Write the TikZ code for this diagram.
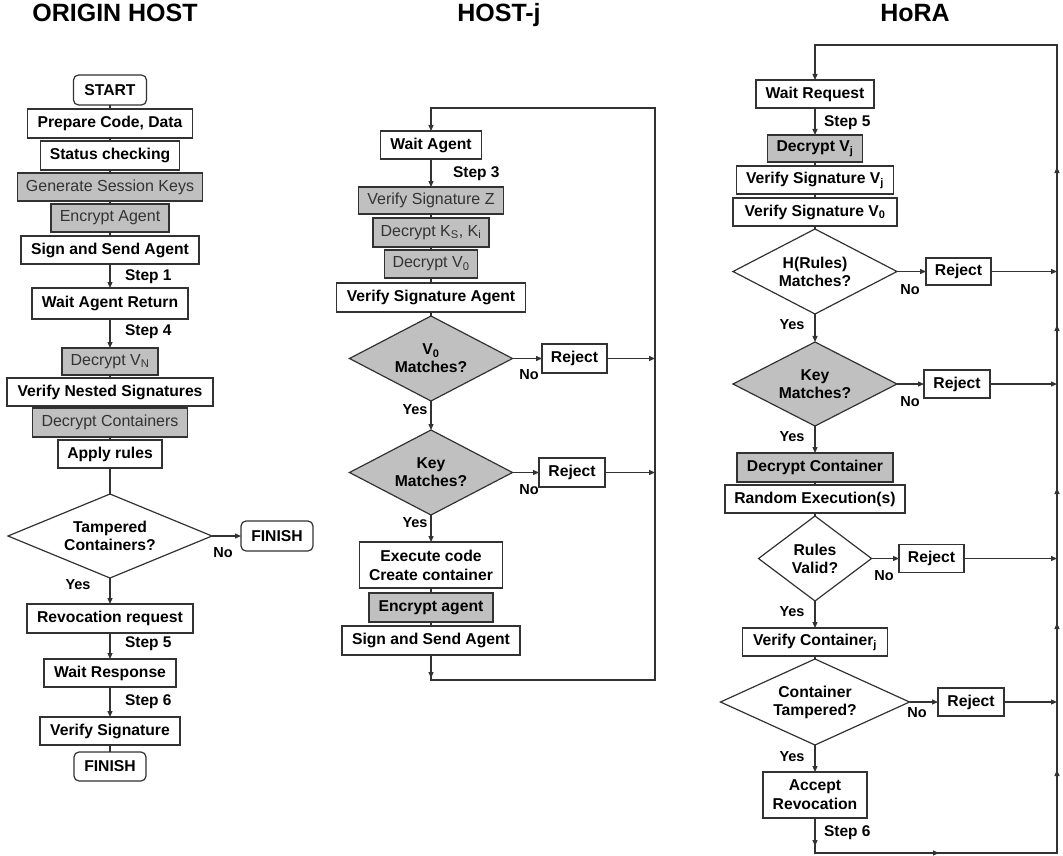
\documentclass[tikz,border=0pt]{standalone}
\usepackage{fontspec}
\setmainfont{Liberation Sans}
\usetikzlibrary{arrows.meta,shapes.geometric,decorations.markings}
\definecolor{boxgray}{RGB}{192,192,192}
\definecolor{edge}{RGB}{50,50,50}
\begin{document}
\begin{tikzpicture}[x=1pt,y=-1pt,
  every node/.style={inner sep=0pt, outer sep=0pt},
  tipA/.tip={Triangle[length=6pt,width=5pt]},
  sz/.style 2 args={minimum width=#1pt, minimum height=#2pt},
  base/.style={draw=edge, line width=1.2pt},
  box/.style={base, fill=white, align=center,
    font=\fontsize{15.7}{19}\selectfont\bfseries},
  rnd/.style={rounded corners=5pt},
  gbox/.style={base, fill=boxgray, align=center, text=black!80,
    font=\fontsize{16}{19}\selectfont},
  bgbox/.style={box, fill=boxgray},
  dia/.style={base, diamond, fill=white},
  gdia/.style={dia, fill=boxgray},
  dtext/.style={align=center, font=\fontsize{15.7}{18}\selectfont\bfseries},
  title/.style={font=\fontsize{25}{30}\selectfont\bfseries, anchor=base},
  steplbl/.style={anchor=west, font=\fontsize{15.5}{18}\selectfont\bfseries},
  yn/.style={font=\fontsize{14.5}{17}\selectfont\bfseries},
  ln/.style={draw=edge, line width=1.2pt},
  arr/.style={ln, -tipA},
  midarrows/.style={postaction={decorate}, decoration={markings, #1}}
]
\useasboundingbox (0,0) rectangle (1063,856);

% column headings
\node[title] (t1) at (115,22) {ORIGIN HOST};
\node[title] (t2) at (499,22) {HOST-j};
\node[title] (t3) at (915,22) {HoRA};

% ---------------- origin host ----------------
\node[box, rnd, sz={73}{30}] (start) at (110,90) {START};
\node[box, sz={165}{29}] (prep) at (110,123.5) {Prepare Code, Data};
\node[box, sz={139}{29}] (stat) at (110,155.5) {Status checking};
\node[gbox, sz={185}{28}] (gen) at (110,187) {Generate Session Keys};
\node[gbox, sz={118}{28}] (enc) at (110,218) {Encrypt Agent};
\node[box, sz={178}{28}] (send) at (110,250) {Sign and Send Agent};
\node[box, sz={156}{31}] (wret) at (110,303.5) {Wait Agent Return};
\node[gbox, sz={96}{27}] (dvn) at (110,361.5) {Decrypt V\textsubscript{N}};
\node[box, sz={206}{28}] (vns) at (110,392) {Verify Nested Signatures};
\node[gbox, sz={155}{29}] (dcs) at (110,422.5) {Decrypt Containers};
\node[box, sz={104}{28}] (rules) at (110,454) {Apply rules};
\node[dia, sz={204}{84}, label={[dtext]center:{Tampered\\Containers?}}] (tamp) at (110,536) {};
\node[box, rnd, sz={72}{30}] (fin1) at (277,536) {FINISH};
\node[box, sz={166}{29}] (revo) at (110,618.5) {Revocation request};
\node[box, sz={132}{28}] (wresp) at (110,673) {Wait Response};
\node[box, sz={140}{28}] (vsig) at (110,731) {Verify Signature};
\node[box, rnd, sz={72}{29}] (fin2) at (110,766.5) {FINISH};

\draw[ln] (start) -- (prep);
\draw[ln] (prep) -- (stat);
\draw[ln] (stat) -- (gen);
\draw[ln] (gen) -- (enc);
\draw[ln] (enc) -- (send);
\draw[arr] (send) -- (wret);
\draw[arr] (wret) -- (dvn);
\draw[ln] (dvn) -- (vns);
\draw[ln] (vns) -- (dcs);
\draw[ln] (dcs) -- (rules);
\draw[ln] (rules) -- (tamp);
\draw[arr] (tamp) -- (fin1);
\draw[arr] (tamp) -- (revo);
\draw[arr] (revo) -- (wresp);
\draw[arr] (wresp) -- (vsig);
\draw[ln] (vsig) -- (fin2);

\node[steplbl] (s1) at (125,277) {Step 1};
\node[steplbl] (s4) at (125,332) {Step 4};
\node[steplbl] (s5) at (125,644) {Step 5};
\node[steplbl] (s6) at (125,702) {Step 6};
\node[yn] (no0) at (223,553) {No};
\node[yn] (yes0) at (78,585) {Yes};

% ---------------- host j ----------------
\node[box, sz={101}{28}] (wag) at (431,145) {Wait Agent};
\node[gbox, sz={145}{27}] (vsz) at (431,200.5) {Verify Signature Z};
\node[gbox, sz={116}{29}] (dks) at (431,232.5) {Decrypt K\textsubscript{S}, K\textsubscript{i}};
\node[gbox, sz={93}{28}] (dv0) at (431,264) {Decrypt V\textsubscript{0}};
\node[box, sz={189}{29}] (vsa) at (431,297.5) {Verify Signature Agent};
\node[gdia, sz={163}{85}, label={[dtext]center:{V\textsubscript{0}\\Matches?}}] (dm0) at (431,358.5) {};
\node[box, sz={65}{29}] (rj1) at (574.5,358.5) {Reject};
\node[gdia, sz={163}{85}, label={[dtext]center:{Key\\Matches?}}] (dmk) at (431,472.5) {};
\node[box, sz={66}{29}] (rj2) at (572,472.5) {Reject};
\node[box, sz={143}{46}] (exe) at (431,565) {Execute code\\Create container};
\node[bgbox, sz={124}{29}] (enca) at (431,607.5) {Encrypt agent};
\node[box, sz={178}{29}] (ssa) at (431,640.5) {Sign and Send Agent};

\coordinate (m1) at (431,680);
\coordinate (m2) at (655,680);
\coordinate (m3) at (655,108);
\coordinate (m4) at (431,108);

\draw[arr] (wag) -- (vsz);
\draw[ln] (vsz) -- (dks);
\draw[ln] (dks) -- (dv0);
\draw[ln] (dv0) -- (vsa);
\draw[ln] (vsa) -- (dm0);
\draw[arr] (dm0) -- (rj1);
\draw[arr] (dm0) -- (dmk);
\draw[arr] (dmk) -- (rj2);
\draw[arr] (dmk) -- (exe);
\draw[ln] (exe) -- (enca);
\draw[ln] (enca) -- (ssa);
\draw[arr] (rj1) -- (rj1 -| m2);
\draw[arr] (rj2) -- (rj2 -| m2);
\draw[arr, midarrows={mark=at position 23pt with {\arrow{tipA}}}]
  (ssa) -- (m1) -- (m2) -- (m3) -- (m4) -- (wag);

\node[steplbl] (s3) at (453,174) {Step 3};
\node[yn] (no1) at (529,375) {No};
\node[yn] (yes1) at (415,410) {Yes};
\node[yn] (no2) at (529,490) {No};
\node[yn] (yes2) at (415,523) {Yes};

% ---------------- HoRA ----------------
\node[box, sz={118}{28}] (wreq) at (815,94) {Wait Request};
\node[bgbox, sz={95}{27}] (dvj) at (815,148.5) {Decrypt V\textsubscript{j}};
\node[box, sz={157}{28}] (vsj) at (815,180) {Verify Signature V\textsubscript{j}};
\node[box, sz={164}{28}] (vso) at (815,212) {Verify Signature V\textsubscript{0}};
\node[dia, sz={164}{85}, label={[dtext]center:{H(Rules)\\Matches?}}] (dh) at (815,271.5) {};
\node[box, sz={65}{27}] (rj3) at (958.5,271.5) {Reject};
\node[gdia, sz={164}{84}, label={[dtext]center:{Key\\Matches?}}] (dk) at (815,384) {};
\node[box, sz={66}{28}] (rj4) at (957,384) {Reject};
\node[bgbox, sz={156}{29}] (dcon) at (815,467.5) {Decrypt Container};
\node[box, sz={180}{28}] (rexe) at (815,499) {Random Execution(s)};
\node[dia, sz={113}{85}, label={[dtext]center:{Rules\\Valid?}}] (dr) at (815,558.5) {};
\node[box, sz={65}{28}] (rj5) at (931.5,558.5) {Reject};
\node[box, sz={145}{28}] (vcj) at (815,642) {Verify Container\textsubscript{j}};
\node[dia, sz={189}{86}, label={[dtext]center:{Container\\Tampered?}}] (dt) at (815,702) {};
\node[box, sz={66}{28}] (rj6) at (971,702) {Reject};
\node[box, sz={104}{46}] (acc) at (815,795) {Accept\\Revocation};

\coordinate (r1) at (815,853);
\coordinate (r2) at (1057,853);
\coordinate (r3) at (1057,45);
\coordinate (r4) at (815,45);

\draw[arr] (wreq) -- (dvj);
\draw[ln] (dvj) -- (vsj);
\draw[ln] (vsj) -- (vso);
\draw[ln] (vso) -- (dh);
\draw[arr] (dh) -- (rj3);
\draw[arr] (dh) -- (dk);
\draw[arr] (dk) -- (rj4);
\draw[arr] (dk) -- (dcon);
\draw[ln] (dcon) -- (rexe);
\draw[ln] (rexe) -- (dr);
\draw[arr] (dr) -- (rj5);
\draw[arr] (dr) -- (vcj);
\draw[ln] (vcj) -- (dt);
\draw[arr] (dt) -- (rj6);
\draw[arr] (dt) -- (acc);
\draw[arr] (rj3) -- (rj3 -| r2);
\draw[arr] (rj4) -- (rj4 -| r2);
\draw[arr] (rj5) -- (rj5 -| r2);
\draw[arr] (rj6) -- (rj6 -| r2);
\draw[arr, midarrows={
    mark=at position 28pt with {\arrow{tipA}},
    mark=at position 159pt with {\arrow{tipA}},
    mark=at position 360pt with {\arrow{tipA}},
    mark=at position 507pt with {\arrow{tipA}},
    mark=at position 642pt with {\arrow{tipA}},
    mark=at position 805pt with {\arrow{tipA}},
    mark=at position 963pt with {\arrow{tipA}}}]
  (acc) -- (r1) -- (r2) -- (r3) -- (r4) -- (wreq);

\node[steplbl] (s5b) at (824,123) {Step 5};
\node[steplbl] (s6b) at (824,833) {Step 6};
\node[yn] (no3) at (910,290) {No};
\node[yn] (yes3) at (792,325) {Yes};
\node[yn] (no4) at (910,402) {No};
\node[yn] (yes4) at (792,437) {Yes};
\node[yn] (no5) at (884,576) {No};
\node[yn] (yes5) at (792,612) {Yes};
\node[yn] (no6) at (917,713) {No};
\node[yn] (yes6) at (792,757) {Yes};
\end{tikzpicture}
\end{document}
